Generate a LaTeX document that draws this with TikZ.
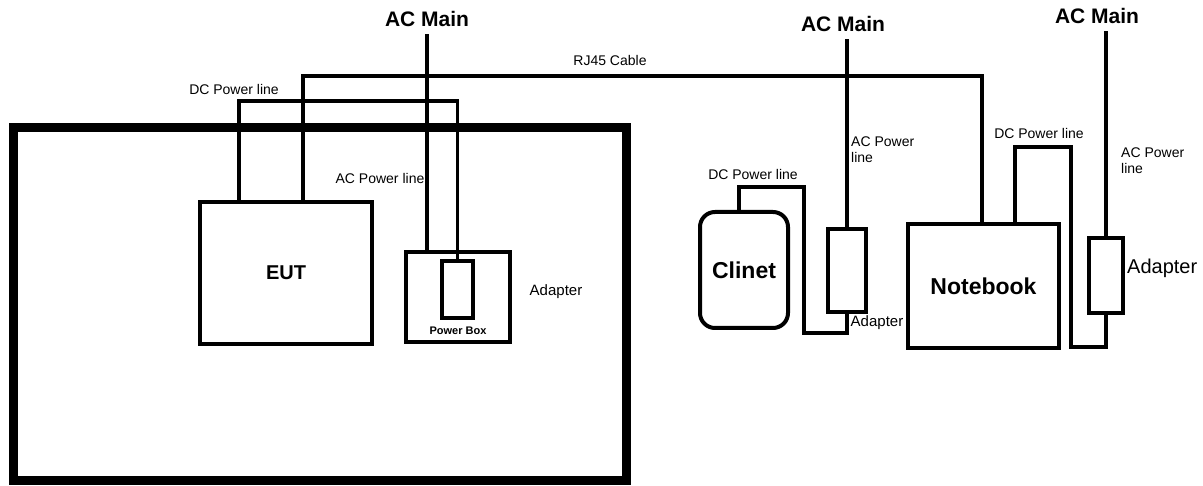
\documentclass[tikz,border=0pt]{standalone}
\usepackage{fontspec}
\setmainfont{Liberation Sans}
\usepackage{tikz}
\tikzset{
  every picture/.style={line join=miter, line cap=rect},
  unit/.style={draw, line width=4pt, inner sep=0pt},
  frame/.style={draw, line width=9pt, inner sep=0pt},
  wire/.style={line width=3.5pt},
  mainwire/.style={wire, shorten <=8pt},
  lbl/.style={inner sep=1pt, font=\fontsize{14}{16}\selectfont},
  mainlbl/.style={inner sep=1pt, font=\fontsize{21}{23}\selectfont\bfseries},
  devlbl/.style={font=\fontsize{23}{25}\selectfont\bfseries},
}

\begin{document}
\begin{tikzpicture}[x=1pt, y=-1pt]
\useasboundingbox (0,0) rectangle (1203,486);
% test site
\node[frame, minimum width=613, minimum height=353] (site) at (320.000,304.000) {};
\node[unit, minimum width=172, minimum height=142, devlbl, font=\fontsize{20}{22}\selectfont\bfseries] (eut) at (286.000,273.000) {EUT};
\node[unit, minimum width=104, minimum height=90] (adapA) at (457.500,297.500) {};
\node[unit, minimum width=31, minimum height=57] (pbox) at (457.500,290.000) {};
\node[font=\fontsize{11}{13}\selectfont\bfseries] (pboxlbl) at (458.000,331.000) {Power Box};
\node[lbl, font=\fontsize{15}{17}\selectfont] (adapAlbl) at (556.000,292.000) {Adapter};
\node[mainlbl] (acA) at (427.000,19.000) {AC Main};
\node[lbl] (acAlbl) at (380.000,178.000) {AC Power line};
\node[lbl] (dcAlbl) at (234.000,89.000) {DC Power line};
\node[lbl] (rjlbl) at (610.000,60.000) {RJ45 Cable};
% support units
\node[unit, rounded corners=15pt, minimum width=88, minimum height=116, devlbl] (cl) at (744.000,270.000) {Clinet};
\node[unit, minimum width=38, minimum height=83] (adB) at (847.000,270.500) {};
\node[mainlbl] (acB) at (843.000,24.000) {AC Main};
\node[lbl, anchor=west, align=left] (acBlbl) at (850.000,150.000) {AC Power\\line};
\node[lbl] (dcBlbl) at (753.000,174.000) {DC Power line};
\node[lbl, font=\fontsize{15}{17}\selectfont] (adBlbl) at (877.000,323.000) {Adapter};
\node[unit, minimum width=151, minimum height=124, devlbl] (nb) at (983.500,286.000) {\raisebox{-4pt}{Notebook}};
\node[unit, minimum width=34, minimum height=75] (adC) at (1106.000,275.500) {};
\node[mainlbl] (acC) at (1097.000,16.000) {AC Main};
\node[lbl, anchor=west, align=left] (acClbl) at (1120.000,161.000) {AC Power\\line};
\node[lbl] (dcClbl) at (1039.000,133.000) {DC Power line};
\node[lbl, anchor=west, font=\fontsize{20}{22}\selectfont] (adClbl) at (1126.000,268.000) {Adapter};
% cables
\draw[wire] (eut.north -| 239,0) |- (0,101 -| pbox.north) -- (pbox.north);
\draw[wire] (eut.north -| 303,0) |- (0,76 -| 982,0) -- (nb.north -| 982,0);
\draw[mainwire] (acA.south) -- (acA.south |- adapA.north);
\draw[wire] (cl.north -| 739,0) |- (804,187) |- (0,333 -| adB.south) -- (adB.south);
\draw[mainwire] (acB.south -| adB.north) -- (adB.north);
\draw[wire] (nb.north -| 1015,0) |- (1071,147) |- (0,347 -| adC.south) -- (adC.south);
\draw[mainwire] (acC.south -| adC.north) -- (adC.north);
\end{tikzpicture}
\end{document}
